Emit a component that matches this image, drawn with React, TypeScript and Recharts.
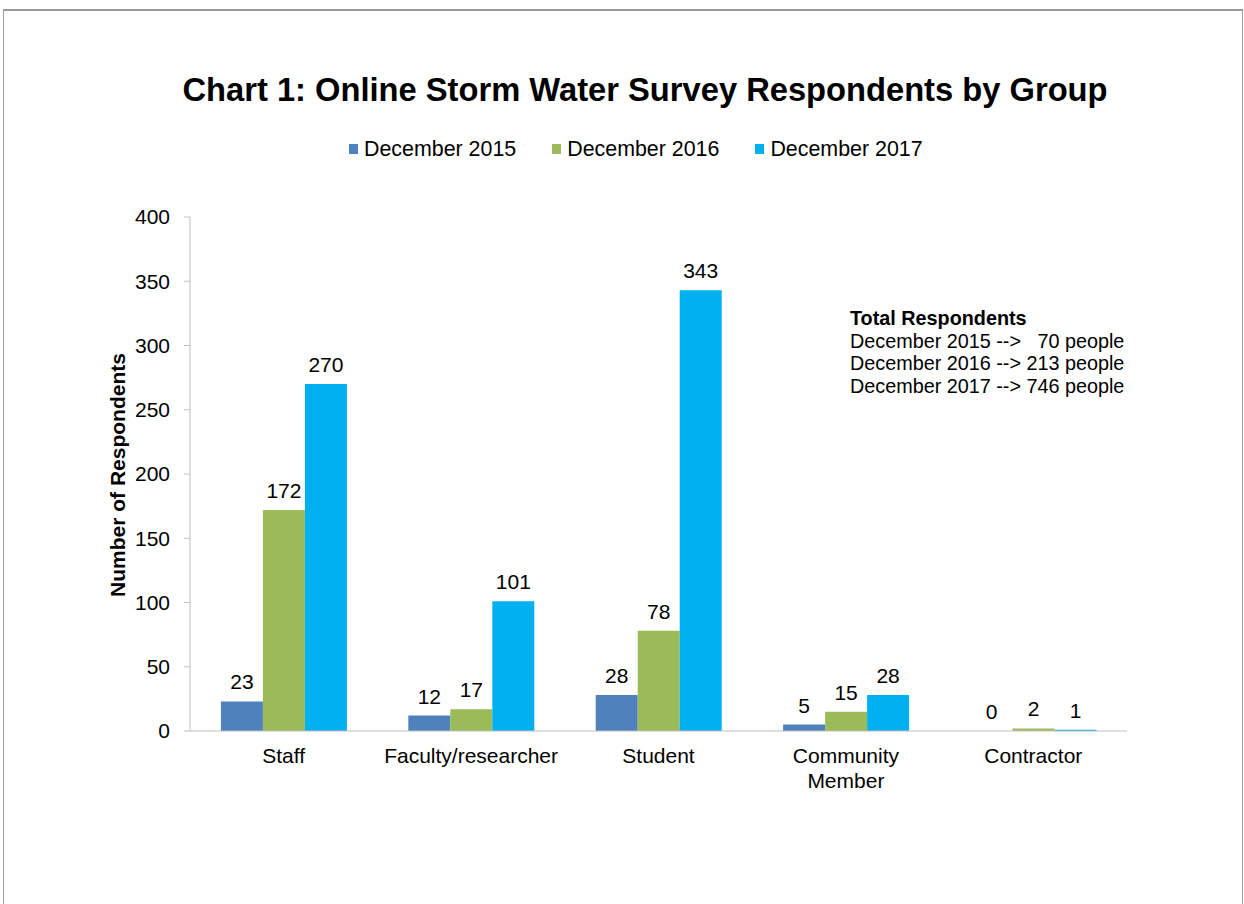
import { Bar, BarChart, LabelList, XAxis, YAxis } from "recharts";

const categories = ["Staff", "Faculty/researcher", "Student", "Community Member", "Contractor"];
const dec2015 = [23, 12, 28, 5, 0];
const dec2016 = [172, 17, 78, 15, 2];
const dec2017 = [270, 101, 343, 28, 1];
const yTicks = [0, 50, 100, 150, 200, 250, 300, 350, 400];
const boundaryTicks = [0, 1, 2, 3, 4, 5];

const series = [
  { key: "d2015", name: "December 2015", color: "#4F81BD" },
  { key: "d2016", name: "December 2016", color: "#9BBB59" },
  { key: "d2017", name: "December 2017", color: "#00B0F0" },
];

const totalsTitle = "Total Respondents";
const totalsLines = [
  "December 2015 -->   70 people",
  "December 2016 --> 213 people",
  "December 2017 --> 746 people",
];

const data = categories.map((name, i) => ({
  name,
  idx: i + 0.5,
  d2015: dec2015[i],
  d2016: dec2016[i],
  d2017: dec2017[i],
}));

const FONT = '"Liberation Sans", Arial, sans-serif';

// rough wrap like Excel does for long multi-word labels
function wrapLabel(label: string, maxChars = 14) {
  const words = label.split(" ");
  const lines: string[] = [];
  let cur = "";
  words.forEach((w) => {
    const next = cur ? cur + " " + w : w;
    if (cur && next.length > maxChars) {
      lines.push(cur);
      cur = w;
    } else {
      cur = next;
    }
  });
  if (cur) lines.push(cur);
  return lines;
}

function CategoryTick(props: any) {
  const { x, y, payload } = props;
  const lines = wrapLabel(String(payload.value));
  return (
    <text x={x} y={y} textAnchor="middle" fill="#000" fontSize={21} fontFamily={FONT}>
      {lines.map((l, i) => (
        <tspan key={i} x={x} dy={i === 0 ? "0.71em" : "1.2em"}>
          {l}
        </tspan>
      ))}
    </text>
  );
}

// zero-height bars still need their "0" label
const tinyForZero = (v: any) => (v === 0 ? 0.1 : 0);

export default function App() {
  return (
    <div
      style={{
        position: "absolute",
        left: 0,
        top: 0,
        width: 1244,
        height: 904,
        overflow: "hidden",
        background: "#fff",
        fontFamily: FONT,
      }}
    >
      {/* frame */}
      <div
        style={{
          position: "absolute",
          left: 3,
          top: 9,
          width: 1238,
          height: 1000,
          border: "1px solid #a0a0a0",
          borderTop: "2px solid #9a9a9a",
        }}
      />

      <div
        style={{
          position: "absolute",
          left: 645,
          top: 74,
          transform: "translateX(-50%)",
          whiteSpace: "nowrap",
          fontSize: 32.7,
          fontWeight: "bold",
          lineHeight: 1,
          color: "#000",
        }}
      >
        Chart 1: Online Storm Water Survey Respondents by Group
      </div>

      {/* legend */}
      <div
        style={{
          position: "absolute",
          left: 349,
          top: 138,
          display: "flex",
          alignItems: "center",
          fontSize: 21.4,
          lineHeight: "22px",
          whiteSpace: "nowrap",
        }}
      >
        {series.map((s) => (
          <div key={s.key} style={{ display: "flex", alignItems: "center", marginRight: 36 }}>
            <span style={{ width: 9, height: 10, background: s.color, marginRight: 6, display: "inline-block" }} />
            <span>{s.name}</span>
          </div>
        ))}
      </div>

      {/* y axis title */}
      <div
        style={{
          position: "absolute",
          left: 117,
          top: 475,
          transform: "translate(-50%, -50%) rotate(-90deg)",
          whiteSpace: "nowrap",
          fontSize: 21,
          fontWeight: "bold",
          lineHeight: 1,
        }}
      >
        Number of Respondents
      </div>

      {/* totals note */}
      <div
        style={{
          position: "absolute",
          left: 850,
          top: 307,
          fontSize: 19.8,
          lineHeight: "22.5px",
          whiteSpace: "pre",
          color: "#000",
        }}
      >
        <div style={{ fontWeight: "bold" }}>{totalsTitle}</div>
        {totalsLines.map((l) => (
          <div key={l}>{l}</div>
        ))}
      </div>

      <div style={{ position: "absolute", left: 0, top: 0 }}>
        <BarChart
          width={1244}
          height={904}
          data={data}
          margin={{ top: 217, right: 117, bottom: 112, left: 110 }}
          barCategoryGap="16.5%"
          barGap={0}
        >
          <XAxis
            xAxisId="b"
            dataKey="name"
            interval={0}
            height={60}
            axisLine={false}
            tickLine={false}
            tickSize={0}
            tickMargin={16}
            tick={<CategoryTick />}
          />
          <XAxis
            xAxisId="a"
            type="number"
            dataKey="idx"
            domain={[0, 5]}
            ticks={boundaryTicks}
            allowDataOverflow
            height={1}
            tick={false}
            tickSize={6}
            axisLine={{ stroke: "#bfbfbf" }}
            tickLine={{ stroke: "#bfbfbf" }}
          />
          <YAxis
            width={80}
            domain={[0, 400]}
            ticks={yTicks}
            interval={0}
            tickSize={6}
            tickMargin={14}
            axisLine={{ stroke: "#bfbfbf" }}
            tickLine={{ stroke: "#bfbfbf" }}
            tick={{ fontSize: 21, fill: "#000", fontFamily: FONT }}
          />
          {series.map((s) => (
            <Bar
              key={s.key}
              xAxisId="b"
              dataKey={s.key}
              name={s.name}
              fill={s.color}
              minPointSize={tinyForZero}
              isAnimationActive={false}
            >
              <LabelList
                dataKey={s.key}
                position="top"
                offset={12}
                fill="#000"
                fontSize={21}
                fontFamily={FONT}
              />
            </Bar>
          ))}
        </BarChart>
      </div>
    </div>
  );
}
